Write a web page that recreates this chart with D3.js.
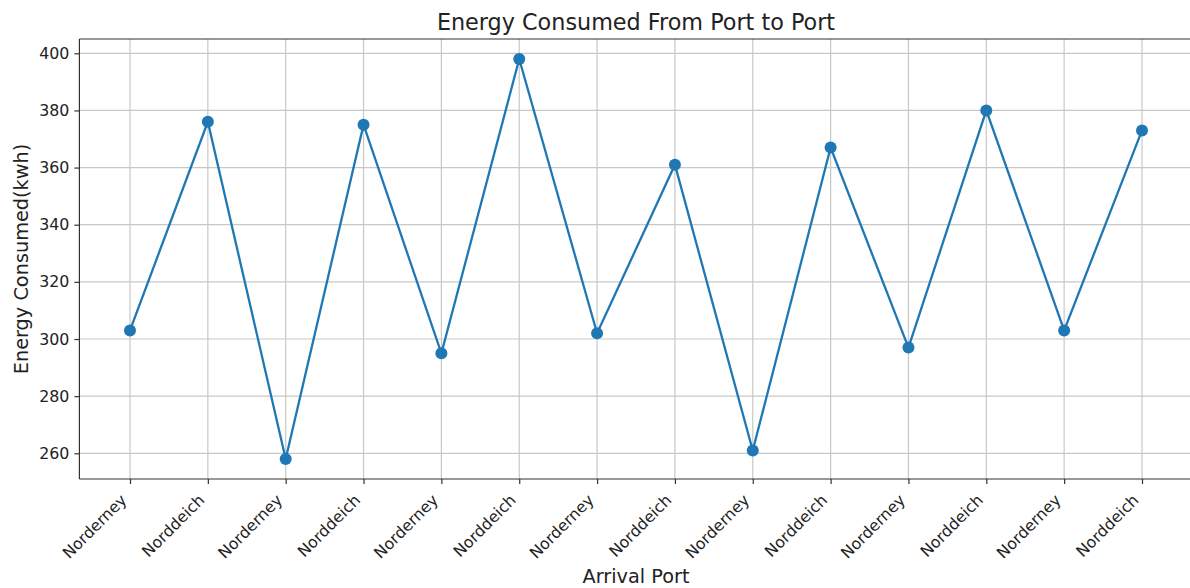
<!DOCTYPE html>
<html>
<head>
<meta charset="utf-8">
<script src="https://cdn.jsdelivr.net/npm/d3@7"></script>
<style>
  body { margin: 0; background: #fff; }
  text { font-family: "DejaVu Sans", sans-serif; fill: #222; }
</style>
</head>
<body>
<script>
const ports = ["Norderney", "Norddeich", "Norderney", "Norddeich", "Norderney", "Norddeich", "Norderney",
               "Norddeich", "Norderney", "Norddeich", "Norderney", "Norddeich", "Norderney", "Norddeich"];
const energy = [303, 376, 258, 375, 295, 398, 302, 361, 261, 367, 297, 380, 303, 373];
const yTicks = [260, 280, 300, 320, 340, 360, 380, 400];

const width = 1190, height = 588;
const plotLeft = 79.4, plotRight = 1192.6, plotTop = 39, plotBottom = 479;
const tickFont = 15.8, labelFont = 19.3;

const svg = d3.select("body").append("svg")
    .attr("width", width)
    .attr("height", height);

const idx = d3.range(ports.length);
const x = d3.scaleLinear()
    .domain([-0.65, ports.length - 1 + 0.65])
    .range([plotLeft, plotRight]);
const y = d3.scaleLinear()
    .domain([251, 405])
    .range([plotBottom, plotTop]);

// grid
svg.append("g")
    .selectAll("line")
    .data(idx)
    .enter().append("line")
    .attr("x1", d => x(d)).attr("x2", d => x(d))
    .attr("y1", plotTop).attr("y2", plotBottom)
    .attr("stroke", "#c8c8c8").attr("stroke-width", 1.2);
svg.append("g")
    .selectAll("line")
    .data(yTicks)
    .enter().append("line")
    .attr("x1", plotLeft).attr("x2", plotRight)
    .attr("y1", d => y(d)).attr("y2", d => y(d))
    .attr("stroke", "#c8c8c8").attr("stroke-width", 1.2);

// x axis, labels rotated 45deg and aligned like matplotlib (bbox right at tick, top below tick)
const xAxis = svg.append("g")
    .attr("transform", `translate(0,${plotBottom})`)
    .call(d3.axisBottom(x).tickValues(idx).tickFormat(i => ports[i]).tickSize(5).tickSizeOuter(0));
xAxis.select(".domain").remove();
xAxis.selectAll("line").attr("stroke", "#333").attr("stroke-width", 1.2);
const c45 = Math.SQRT1_2;
xAxis.selectAll("text")
    .attr("font-size", tickFont)
    .attr("text-anchor", "end")
    .attr("dy", null)
    .attr("y", 0)
    .each(function() {
        const b = this.getBBox();
        const corners = [[b.x, b.y], [b.x + b.width, b.y], [b.x, b.y + b.height], [b.x + b.width, b.y + b.height]]
            .map(([px, py]) => [c45 * px + c45 * py, -c45 * px + c45 * py]);
        const maxX = d3.max(corners, c => c[0]);
        const minY = d3.min(corners, c => c[1]);
        d3.select(this).attr("transform", `translate(${-maxX},${11.5 - minY}) rotate(-45)`);
    });

const yAxis = svg.append("g")
    .attr("transform", `translate(${plotLeft},0)`)
    .call(d3.axisLeft(y).tickValues(yTicks).tickSize(5).tickSizeOuter(0));
yAxis.select(".domain").remove();
yAxis.selectAll("line").attr("stroke", "#333").attr("stroke-width", 1.2);
yAxis.selectAll("text").attr("font-size", tickFont).attr("x", -10);

// spines
svg.append("line").attr("x1", plotLeft).attr("x2", plotLeft).attr("y1", plotTop).attr("y2", plotBottom)
    .attr("stroke", "#333").attr("stroke-width", 1.2);
svg.append("line").attr("x1", plotLeft).attr("x2", plotRight).attr("y1", plotBottom).attr("y2", plotBottom)
    .attr("stroke", "#333").attr("stroke-width", 1.2);
svg.append("line").attr("x1", plotLeft).attr("x2", plotRight).attr("y1", plotTop).attr("y2", plotTop)
    .attr("stroke", "#333").attr("stroke-width", 1.2);

// line + markers
const line = d3.line().x((d, i) => x(i)).y(d => y(d));
svg.append("path")
    .datum(energy)
    .attr("d", line)
    .attr("fill", "none")
    .attr("stroke", "#1f77b4")
    .attr("stroke-width", 2.3);
svg.append("g")
    .selectAll("circle")
    .data(energy)
    .enter().append("circle")
    .attr("cx", (d, i) => x(i))
    .attr("cy", d => y(d))
    .attr("r", 6)
    .attr("fill", "#1f77b4");

// titles
svg.append("text")
    .attr("x", (plotLeft + plotRight) / 2).attr("y", 30)
    .attr("text-anchor", "middle")
    .attr("font-size", 22.3)
    .text("Energy Consumed From Port to Port");
svg.append("text")
    .attr("x", (plotLeft + plotRight) / 2).attr("y", 583)
    .attr("text-anchor", "middle")
    .attr("font-size", labelFont)
    .text("Arrival Port");
svg.append("text")
    .attr("transform", `translate(28,${(plotTop + plotBottom) / 2}) rotate(-90)`)
    .attr("text-anchor", "middle")
    .attr("font-size", labelFont)
    .text("Energy Consumed(kwh)");
</script>
</body>
</html>
